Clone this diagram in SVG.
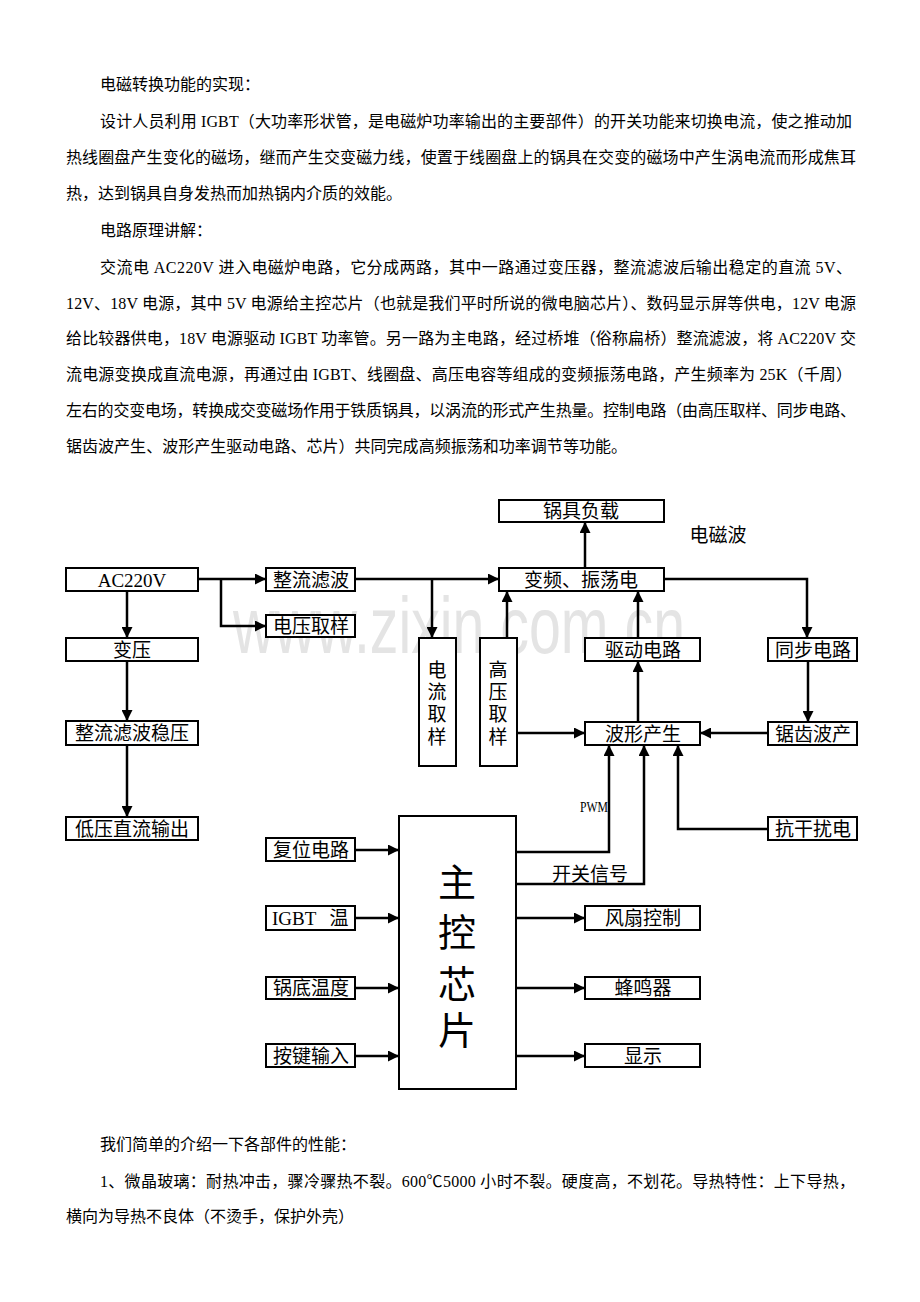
<svg xmlns="http://www.w3.org/2000/svg" width="920" height="1302" viewBox="0 0 920 1302">
<style>
.body{font-family:"Liberation Serif","Noto Sans CJK SC",serif;font-size:16px;fill:#000}
.lbl{font-family:"Liberation Serif","Noto Sans CJK SC",serif;font-size:19px;fill:#000;text-anchor:middle}
.box{fill:#fff;stroke:#000;stroke-width:2}
.wire{fill:none;stroke:#000;stroke-width:2}
.arr{fill:none;stroke:#000;stroke-width:2.5;marker-end:url(#ah)}
.wm{font-family:"Liberation Sans",Arial,sans-serif;font-size:80px;fill:#e4e4e4}
</style>
<defs>
<marker id="ah" viewBox="0 0 10 10" refX="10" refY="5" markerWidth="11" markerHeight="11" markerUnits="userSpaceOnUse" orient="auto">
<path d="M0,0 L10,5 L0,10 z" fill="#000"/>
</marker>
</defs>
<rect width="920" height="1302" fill="#fff"/>

<g id="text-top">
<text class="body" x="100" y="90">电磁转换功能的实现：</text>
<text class="body" x="100" y="127" textLength="752" lengthAdjust="spacing">设计人员利用 IGBT（大功率形状管，是电磁炉功率输出的主要部件）的开关功能来切换电流，使之推动加</text>
<text class="body" x="66" y="163" textLength="790" lengthAdjust="spacing">热线圈盘产生变化的磁场，继而产生交变磁力线，使置于线圈盘上的锅具在交变的磁场中产生涡电流而形成焦耳</text>
<text class="body" x="66" y="199">热，达到锅具自身发热而加热锅内介质的效能。</text>
<text class="body" x="100" y="236">电路原理讲解：</text>
<text class="body" x="100" y="273" textLength="752" lengthAdjust="spacing">交流电 AC220V 进入电磁炉电路，它分成两路，其中一路通过变压器，整流滤波后输出稳定的直流 5V、</text>
<text class="body" x="66" y="309" textLength="790" lengthAdjust="spacing">12V、18V 电源，其中 5V 电源给主控芯片（也就是我们平时所说的微电脑芯片）、数码显示屏等供电，12V 电源</text>
<text class="body" x="66" y="344" textLength="790" lengthAdjust="spacing">给比较器供电，18V 电源驱动 IGBT 功率管。另一路为主电路，经过桥堆（俗称扁桥）整流滤波，将 AC220V 交</text>
<text class="body" x="66" y="380" textLength="786" lengthAdjust="spacing">流电源变换成直流电源，再通过由 IGBT、线圈盘、高压电容等组成的变频振荡电路，产生频率为 25K（千周）</text>
<text class="body" x="66" y="416" textLength="790" lengthAdjust="spacing">左右的交变电场，转换成交变磁场作用于铁质锅具，以涡流的形式产生热量。控制电路（由高压取样、同步电路、</text>
<text class="body" x="66" y="452" textLength="561" lengthAdjust="spacing">锯齿波产生、波形产生驱动电路、芯片）共同完成高频振荡和功率调节等功能。</text>
</g>

<text class="wm" x="233" y="653" textLength="452" lengthAdjust="spacingAndGlyphs">www.zixin.com.cn</text>

<g id="connectors">
<path class="arr" d="M198,579 H266"/>
<path class="arr" d="M221,579 V626 H266"/>
<path class="arr" d="M127,591 V638"/>
<path class="arr" d="M127,661 V721"/>
<path class="arr" d="M127,745 V817"/>
<path class="arr" d="M355,579 H499"/>
<path class="arr" d="M432,579 V638"/>
<path class="arr" d="M507,638 V591"/>
<path class="arr" d="M638,638 V591"/>
<path class="arr" d="M585,568 V522"/>
<path class="arr" d="M664,579 H807 V638"/>
<path class="arr" d="M638,722 V661"/>
<path class="arr" d="M808,661 V722"/>
<path class="arr" d="M517,733 H585"/>
<path class="arr" d="M768,733 H700"/>
<path class="arr" d="M516,852 H609 V745"/>
<path class="arr" d="M516,884 H644 V745"/>
<path class="arr" d="M768,829 H678 V745"/>
<path class="arr" d="M355,850 H399"/>
<path class="arr" d="M355,918 H399"/>
<path class="arr" d="M355,988 H399"/>
<path class="arr" d="M355,1056 H399"/>
<path class="arr" d="M516,918 H585"/>
<path class="arr" d="M516,988 H585"/>
<path class="arr" d="M516,1056 H585"/>
</g>

<g id="n-load"><rect class="box" x="499" y="500" width="165" height="22"/><text class="lbl" x="581" y="518">锅具负载</text></g>
<g id="n-emwave"><text class="lbl" x="718" y="542">电磁波</text></g>
<g id="n-ac"><rect class="box" x="66" y="568" width="132" height="23"/><text class="lbl" x="132" y="587">AC220V</text></g>
<g id="n-rect"><rect class="box" x="266" y="568" width="89" height="23"/><text class="lbl" x="311" y="587">整流滤波</text></g>
<g id="n-osc"><rect class="box" x="499" y="568" width="165" height="23"/><text class="lbl" x="581" y="587">变频、振荡电</text></g>
<g id="n-vsample"><rect class="box" x="266" y="615" width="89" height="22"/><text class="lbl" x="311" y="633">电压取样</text></g>
<g id="n-trans"><rect class="box" x="66" y="638" width="132" height="23"/><text class="lbl" x="132" y="657">变压</text></g>
<g id="n-isample"><rect class="box" x="419" y="638" width="37" height="128"/>
<text class="lbl" x="437" y="677">电</text><text class="lbl" x="437" y="699">流</text><text class="lbl" x="437" y="721">取</text><text class="lbl" x="437" y="744">样</text></g>
<g id="n-hvsample"><rect class="box" x="480" y="638" width="37" height="128"/>
<text class="lbl" x="498" y="677">高</text><text class="lbl" x="498" y="699">压</text><text class="lbl" x="498" y="721">取</text><text class="lbl" x="498" y="744">样</text></g>
<g id="n-drive"><rect class="box" x="585" y="638" width="115" height="23"/><text class="lbl" x="643" y="657">驱动电路</text></g>
<g id="n-sync"><rect class="box" x="768" y="638" width="89" height="23"/><text class="lbl" x="813" y="657">同步电路</text></g>
<g id="n-regul"><rect class="box" x="66" y="721" width="132" height="24"/><text class="lbl" x="132" y="740">整流滤波稳压</text></g>
<g id="n-wave"><rect class="box" x="585" y="722" width="115" height="23"/><text class="lbl" x="643" y="741">波形产生</text></g>
<g id="n-saw"><rect class="box" x="768" y="722" width="89" height="23"/><text class="lbl" x="813" y="741">锯齿波产</text></g>
<g id="n-lowdc"><rect class="box" x="66" y="817" width="132" height="23"/><text class="lbl" x="132" y="836">低压直流输出</text></g>
<g id="n-antijam"><rect class="box" x="768" y="817" width="89" height="23"/><text class="lbl" x="813" y="836">抗干扰电</text></g>
<g id="n-chip"><rect class="box" x="399" y="816" width="117" height="273"/>
<text class="lbl" style="font-size:38px" x="457" y="896">主</text>
<text class="lbl" style="font-size:38px" x="457" y="946">控</text>
<text class="lbl" style="font-size:38px" x="457" y="998">芯</text>
<text class="lbl" style="font-size:38px" x="457" y="1044">片</text></g>
<g id="n-pwm"><text x="580" y="812" textLength="28" lengthAdjust="spacingAndGlyphs" style="font-family:'Liberation Serif',serif;font-size:15px">PWM</text></g>
<g id="n-switch"><text class="lbl" x="590" y="881">开关信号</text></g>
<g id="n-reset"><rect class="box" x="266" y="838" width="89" height="23"/><text class="lbl" x="311" y="857">复位电路</text></g>
<g id="n-igbt"><rect class="box" x="266" y="906" width="89" height="24"/><text class="lbl" style="text-anchor:start" x="272" y="925">IGBT</text><text class="lbl" x="339" y="925">温</text></g>
<g id="n-pot"><rect class="box" x="266" y="977" width="89" height="22"/><text class="lbl" x="311" y="995">锅底温度</text></g>
<g id="n-key"><rect class="box" x="266" y="1044" width="89" height="23"/><text class="lbl" x="311" y="1063">按键输入</text></g>
<g id="n-fan"><rect class="box" x="585" y="906" width="115" height="24"/><text class="lbl" x="643" y="925">风扇控制</text></g>
<g id="n-buzz"><rect class="box" x="585" y="977" width="115" height="22"/><text class="lbl" x="643" y="995">蜂鸣器</text></g>
<g id="n-disp"><rect class="box" x="585" y="1044" width="115" height="23"/><text class="lbl" x="643" y="1063">显示</text></g>

<g id="text-bottom">
<text class="body" x="100" y="1150">我们简单的介绍一下各部件的性能：</text>
<text class="body" x="100" y="1187" textLength="755" lengthAdjust="spacing">1、微晶玻璃：耐热冲击，骤冷骤热不裂。600℃5000 小时不裂。硬度高，不划花。导热特性：上下导热，</text>
<text class="body" x="66" y="1222">横向为导热不良体（不烫手，保护外壳）</text>
</g>
</svg>
